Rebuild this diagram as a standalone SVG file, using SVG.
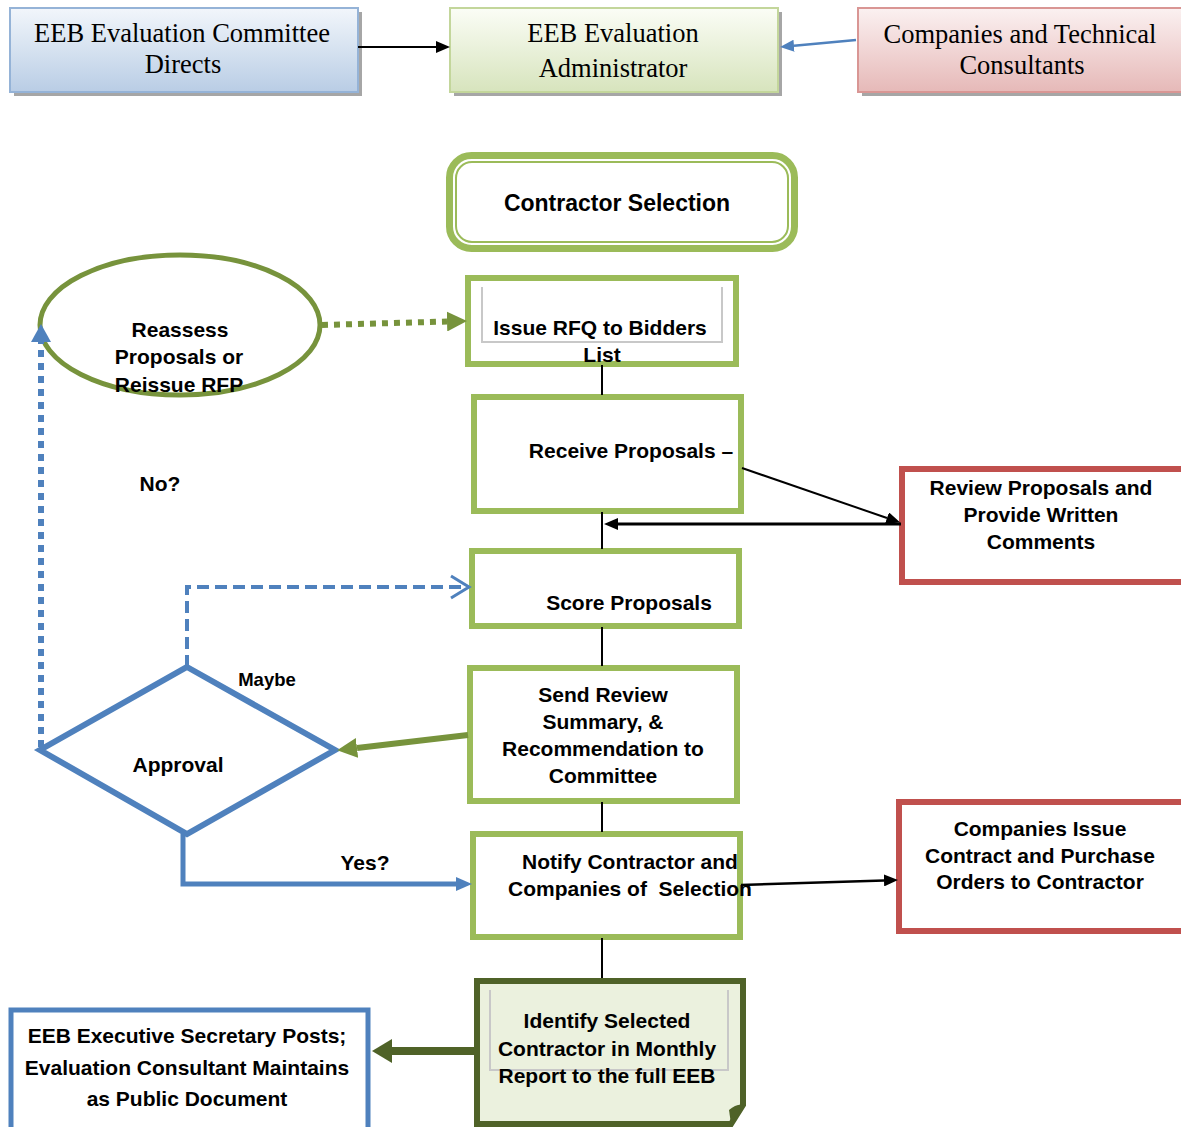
<svg xmlns="http://www.w3.org/2000/svg" width="1181" height="1127" viewBox="0 0 1181 1127">
<defs>
<linearGradient id="gBlue" x1="0" y1="0" x2="0" y2="1"><stop offset="0" stop-color="#f2f6fb"/><stop offset="1" stop-color="#b9cde5"/></linearGradient>
<linearGradient id="gGreen" x1="0" y1="0" x2="0" y2="1"><stop offset="0" stop-color="#fbfdf6"/><stop offset="1" stop-color="#d7e4bd"/></linearGradient>
<linearGradient id="gRed" x1="0" y1="0" x2="0" y2="1"><stop offset="0" stop-color="#fbf1f1"/><stop offset="1" stop-color="#e6b9b8"/></linearGradient>
<marker id="aBlack" markerUnits="userSpaceOnUse" markerWidth="14" markerHeight="12" refX="0" refY="6" orient="auto"><path d="M0,0 L14,6 L0,12 Z" fill="#000"/></marker>
<marker id="aBlue" markerUnits="userSpaceOnUse" markerWidth="16" markerHeight="14" refX="0" refY="7" orient="auto"><path d="M0,0 L16,7 L0,14 Z" fill="#4f81bd"/></marker>
<marker id="aBlueL" markerUnits="userSpaceOnUse" markerWidth="18" markerHeight="20" refX="0" refY="10" orient="auto"><path d="M0,0 L18,10 L0,20 Z" fill="#4f81bd"/></marker>
<marker id="aBlueS" markerUnits="userSpaceOnUse" markerWidth="14" markerHeight="12" refX="0" refY="6" orient="auto"><path d="M0,0 L14,6 L0,12 Z" fill="#4f81bd"/></marker>
<marker id="aGreen" markerUnits="userSpaceOnUse" markerWidth="20" markerHeight="20" refX="0" refY="10" orient="auto"><path d="M0,0 L20,10 L0,20 Z" fill="#77933c"/></marker>
<marker id="aDark" markerUnits="userSpaceOnUse" markerWidth="20" markerHeight="24" refX="0" refY="12" orient="auto"><path d="M0,0 L20,12 L0,24 Z" fill="#4f6228"/></marker>
</defs>
<style>
.serif{font-family:"Liberation Serif","Times New Roman",serif;font-size:26.5px;fill:#000;text-anchor:middle}
.lbl{font-family:"Liberation Sans",Arial,sans-serif;font-weight:bold;font-size:21px;fill:#000;text-anchor:middle}
.sm{font-size:18.5px}
.box{fill:#fff;stroke:#9bbb59;stroke-width:6}
.redbox{fill:#fff;stroke:#c0504d;stroke-width:6}
.shadow{fill:#a6a6a6}
.thin{fill:none;stroke:#c8c8c8;stroke-width:2}
.vline{stroke:#000;stroke-width:2}
</style>

<g id="n-committee">
<rect class="shadow" x="14" y="12" width="348" height="84"/>
<rect x="10" y="8" width="348" height="84" fill="url(#gBlue)" stroke="#95b3d7" stroke-width="2"/>
<text class="serif" x="182" y="42">EEB Evaluation Committee</text>
<text class="serif" x="183" y="73">Directs</text>
</g>
<g id="n-admin">
<rect class="shadow" x="454" y="12" width="328" height="84"/>
<rect x="450" y="8" width="328" height="84" fill="url(#gGreen)" stroke="#c3d69b" stroke-width="2"/>
<text class="serif" x="613" y="42">EEB Evaluation</text>
<text class="serif" x="613" y="77">Administrator</text>
</g>
<g id="n-companies">
<rect class="shadow" x="862" y="12" width="330" height="84"/>
<rect x="858" y="8" width="330" height="84" fill="url(#gRed)" stroke="#d99694" stroke-width="2"/>
<text class="serif" x="1020" y="43">Companies and Technical</text>
<text class="serif" x="1022" y="74">Consultants</text>
</g>

<g id="n-contractor-selection">
<rect x="449.5" y="155.5" width="345" height="93" rx="22" fill="#fff" stroke="#9bbb59" stroke-width="7"/>
<rect x="456" y="162" width="332" height="80" rx="16" fill="none" stroke="#9bbb59" stroke-width="2"/>
<text class="lbl" x="617" y="211" style="font-size:23px">Contractor Selection</text>
</g>
<g id="n-reassess">
<ellipse cx="180" cy="325" rx="140" ry="70" fill="#fff" stroke="#77933c" stroke-width="5"/>
<text class="lbl" x="180" y="337">Reassess</text>
<text class="lbl" x="179" y="364">Proposals or</text>
<text class="lbl" x="179" y="392">Reissue RFP</text>
</g>
<g id="n-rfq">
<rect class="box" x="468" y="278" width="268" height="86"/>
<path class="thin" d="M482,287 V342 H722 V287"/>
<text class="lbl" x="600" y="335">Issue RFQ to Bidders</text>
<text class="lbl" x="602" y="362">List</text>
</g>
<g id="n-receive">
<rect class="box" x="474" y="397" width="267" height="114"/>
<text class="lbl" x="631" y="458">Receive Proposals –</text>
</g>
<g id="n-review">
<rect class="redbox" x="902" y="469" width="284" height="113"/>
<text class="lbl" x="1041" y="495">Review Proposals and</text>
<text class="lbl" x="1041" y="522">Provide Written</text>
<text class="lbl" x="1041" y="549">Comments</text>
</g>
<g id="n-score">
<rect class="box" x="472" y="551" width="267" height="75"/>
<text class="lbl" x="629" y="610">Score Proposals</text>
</g>
<g id="n-send">
<rect class="box" x="470" y="668" width="267" height="133"/>
<text class="lbl" x="603" y="702">Send Review</text>
<text class="lbl" x="603" y="729">Summary, &amp;</text>
<text class="lbl" x="603" y="756">Recommendation to</text>
<text class="lbl" x="603" y="783">Committee</text>
</g>
<g id="n-approval">
<polygon points="187,667 335,750 187,834 40,750" fill="#fff" stroke="#4f81bd" stroke-width="6" stroke-linejoin="miter"/>
<text class="lbl" x="178" y="772">Approval</text>
</g>
<g id="n-notify">
<rect class="box" x="473" y="834" width="267" height="103"/>
<text class="lbl" x="630" y="869">Notify Contractor and</text>
<text class="lbl" x="630" y="896" xml:space="preserve">Companies of  Selection</text>
</g>
<g id="n-issue">
<rect class="redbox" x="899" y="802" width="287" height="129"/>
<text class="lbl" x="1040" y="836">Companies Issue</text>
<text class="lbl" x="1040" y="863">Contract and Purchase</text>
<text class="lbl" x="1040" y="889">Orders to Contractor</text>
</g>
<g id="n-identify">
<path d="M477,981 H743 V1105 L731,1124 H477 Z" fill="#ebf1de" stroke="#4f6228" stroke-width="6" stroke-linejoin="miter"/>
<path d="M743,1105 L731,1124 L729,1110 Q736,1104 743,1105 Z" fill="#4f6228"/>
<path class="thin" d="M490,990 V1070 H728 V990"/>
<text class="lbl" x="607" y="1028">Identify Selected</text>
<text class="lbl" x="607" y="1056">Contractor in Monthly</text>
<text class="lbl" x="607" y="1083">Report to the full EEB</text>
</g>
<g id="n-post">
<rect x="11" y="1010" width="357" height="120" fill="#fff" stroke="#4f81bd" stroke-width="5"/>
<text class="lbl" x="187" y="1043">EEB Executive Secretary Posts;</text>
<text class="lbl" x="187" y="1075">Evaluation Consultant Maintains</text>
<text class="lbl" x="187" y="1106">as Public Document</text>
</g>

<g id="connectors">
<line class="vline" x1="602" y1="365" x2="602" y2="395"/>
<line class="vline" x1="602" y1="512" x2="602" y2="549"/>
<line class="vline" x1="602" y1="627" x2="602" y2="666"/>
<line class="vline" x1="602" y1="802" x2="602" y2="832"/>
<line class="vline" x1="602" y1="938" x2="602" y2="978"/>
<line x1="358" y1="47" x2="436" y2="47" stroke="#000" stroke-width="2" marker-end="url(#aBlack)"/>
<line x1="856" y1="40" x2="794" y2="45.7" stroke="#4f81bd" stroke-width="2.5" marker-end="url(#aBlueS)"/>
<line x1="742" y1="468" x2="887" y2="518" stroke="#000" stroke-width="2" marker-end="url(#aBlack)"/>
<line x1="901" y1="524" x2="618" y2="524" stroke="#000" stroke-width="3" marker-end="url(#aBlack)"/>
<line x1="741" y1="885" x2="884" y2="880.4" stroke="#000" stroke-width="2.5" marker-end="url(#aBlack)"/>
<line x1="468" y1="735" x2="357" y2="748" stroke="#77933c" stroke-width="6" marker-end="url(#aGreen)"/>
<line x1="474" y1="1051" x2="392" y2="1051" stroke="#4f6228" stroke-width="8" marker-end="url(#aDark)"/>
<line x1="322" y1="325" x2="447" y2="321.5" stroke="#77933c" stroke-width="6" stroke-dasharray="6 6" marker-end="url(#aGreen)"/>
<line x1="41" y1="747" x2="41" y2="342" stroke="#4f81bd" stroke-width="6" stroke-dasharray="7 6" marker-end="url(#aBlueL)"/>
<path d="M187,667 V587 H467" fill="none" stroke="#4f81bd" stroke-width="4" stroke-dasharray="12 6"/>
<polyline points="451,576 469,587 451,598" fill="none" stroke="#4f81bd" stroke-width="3"/>
<path d="M183,834 V884 H456" fill="none" stroke="#4f81bd" stroke-width="5" marker-end="url(#aBlue)"/>
<text class="lbl sm" x="267" y="686">Maybe</text>
<text class="lbl" x="160" y="491">No?</text>
<text class="lbl" x="365" y="870">Yes?</text>
</g>
</svg>
